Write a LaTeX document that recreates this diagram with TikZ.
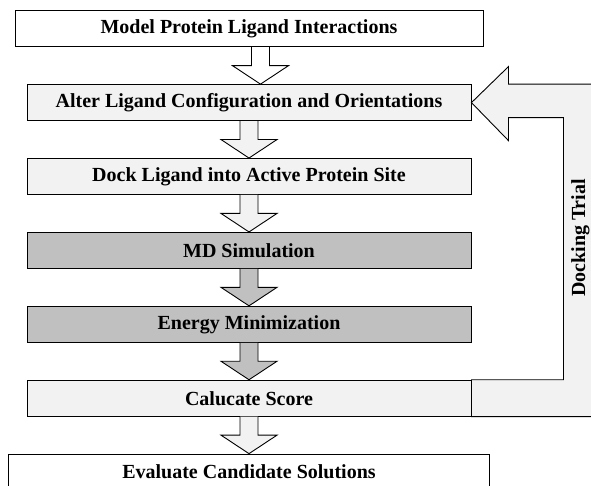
\documentclass[tikz,border=0pt]{standalone}
\usepackage{fontspec}
\setmainfont{Liberation Serif}
\usetikzlibrary{calc}
\definecolor{lightGray}{HTML}{F2F2F2}
\definecolor{darkGray}{HTML}{C0C0C0}
\tikzstyle{whiteBox} = [rectangle, minimum height=36pt, text centered, draw=black, fill=white, line width=0.9pt, font=\fontsize{20}{24}\selectfont\bfseries]
\tikzstyle{stepBox} = [whiteBox, minimum width=444pt, fill=lightGray]
\tikzstyle{simBox} = [stepBox, fill=darkGray]
\tikzstyle{blockArrow} = [draw=black, line width=0.9pt, line join=miter]
\tikzstyle{feedback} = [draw=black, line width=0.9pt, fill=lightGray]

\begin{document}
\begin{tikzpicture} [x=1pt, y=-1pt, node distance=73.9pt]
        \useasboundingbox (0,0) rectangle (591,486);

        \node (model) [whiteBox, minimum width=468pt] at (249,28.7) {Model Protein Ligand Interactions};
        \node (alter) [stepBox, below of=model] {Alter Ligand Configuration and Orientations};
        \node (dock) [stepBox, below of=alter] {Dock Ligand into Active Protein Site};
        \node (md) [simBox, below of=dock] {MD Simulation};
        \node (energy) [simBox, below of=md] {Energy Minimization};
        \node (score) [stepBox, below of=energy] {Calucate Score};
        \node (evaluate) [whiteBox, minimum width=481pt, below of=score] {Evaluate Candidate Solutions};

        % block arrows between the steps
        \foreach \from/\to/\shade/\off in {model/alter/white/11.5pt, alter/dock/lightGray/0pt, dock/md/lightGray/0pt,
                md/energy/darkGray/0pt, energy/score/darkGray/0pt, score/evaluate/lightGray/0pt} {
            \coordinate (mid) at ($(\from.south)!0.5!(\to.north)$);
            \draw[blockArrow, fill=\shade] ([xshift=\off-9pt]\from.south) -- ([xshift=\off-9pt]mid)
                -- ([xshift=\off-28pt]mid) -- ([xshift=\off]\to.north) -- ([xshift=\off+28pt]mid)
                -- ([xshift=\off+9pt]mid) -- ([xshift=\off+9pt]\from.south);
        }

        % docking trial loop
        \draw[feedback] (score.north east) -- ++(92,0) coordinate (loopIn)
            |- ([xshift=37pt, yshift=-15pt]alter.east) -- ([xshift=37pt, yshift=-38pt]alter.east)
            -- (alter.east) -- ([xshift=37pt, yshift=36pt]alter.east)
            -- ([xshift=37pt]alter.north east) -- ++(100,0) coordinate (loopOut)
            |- (score.south east) -- cycle;

        \node (trial) [rotate=90, font=\fontsize{20}{24}\selectfont\bfseries] at (580.5,238) {Docking Trial};

    \end{tikzpicture}
\end{document}
